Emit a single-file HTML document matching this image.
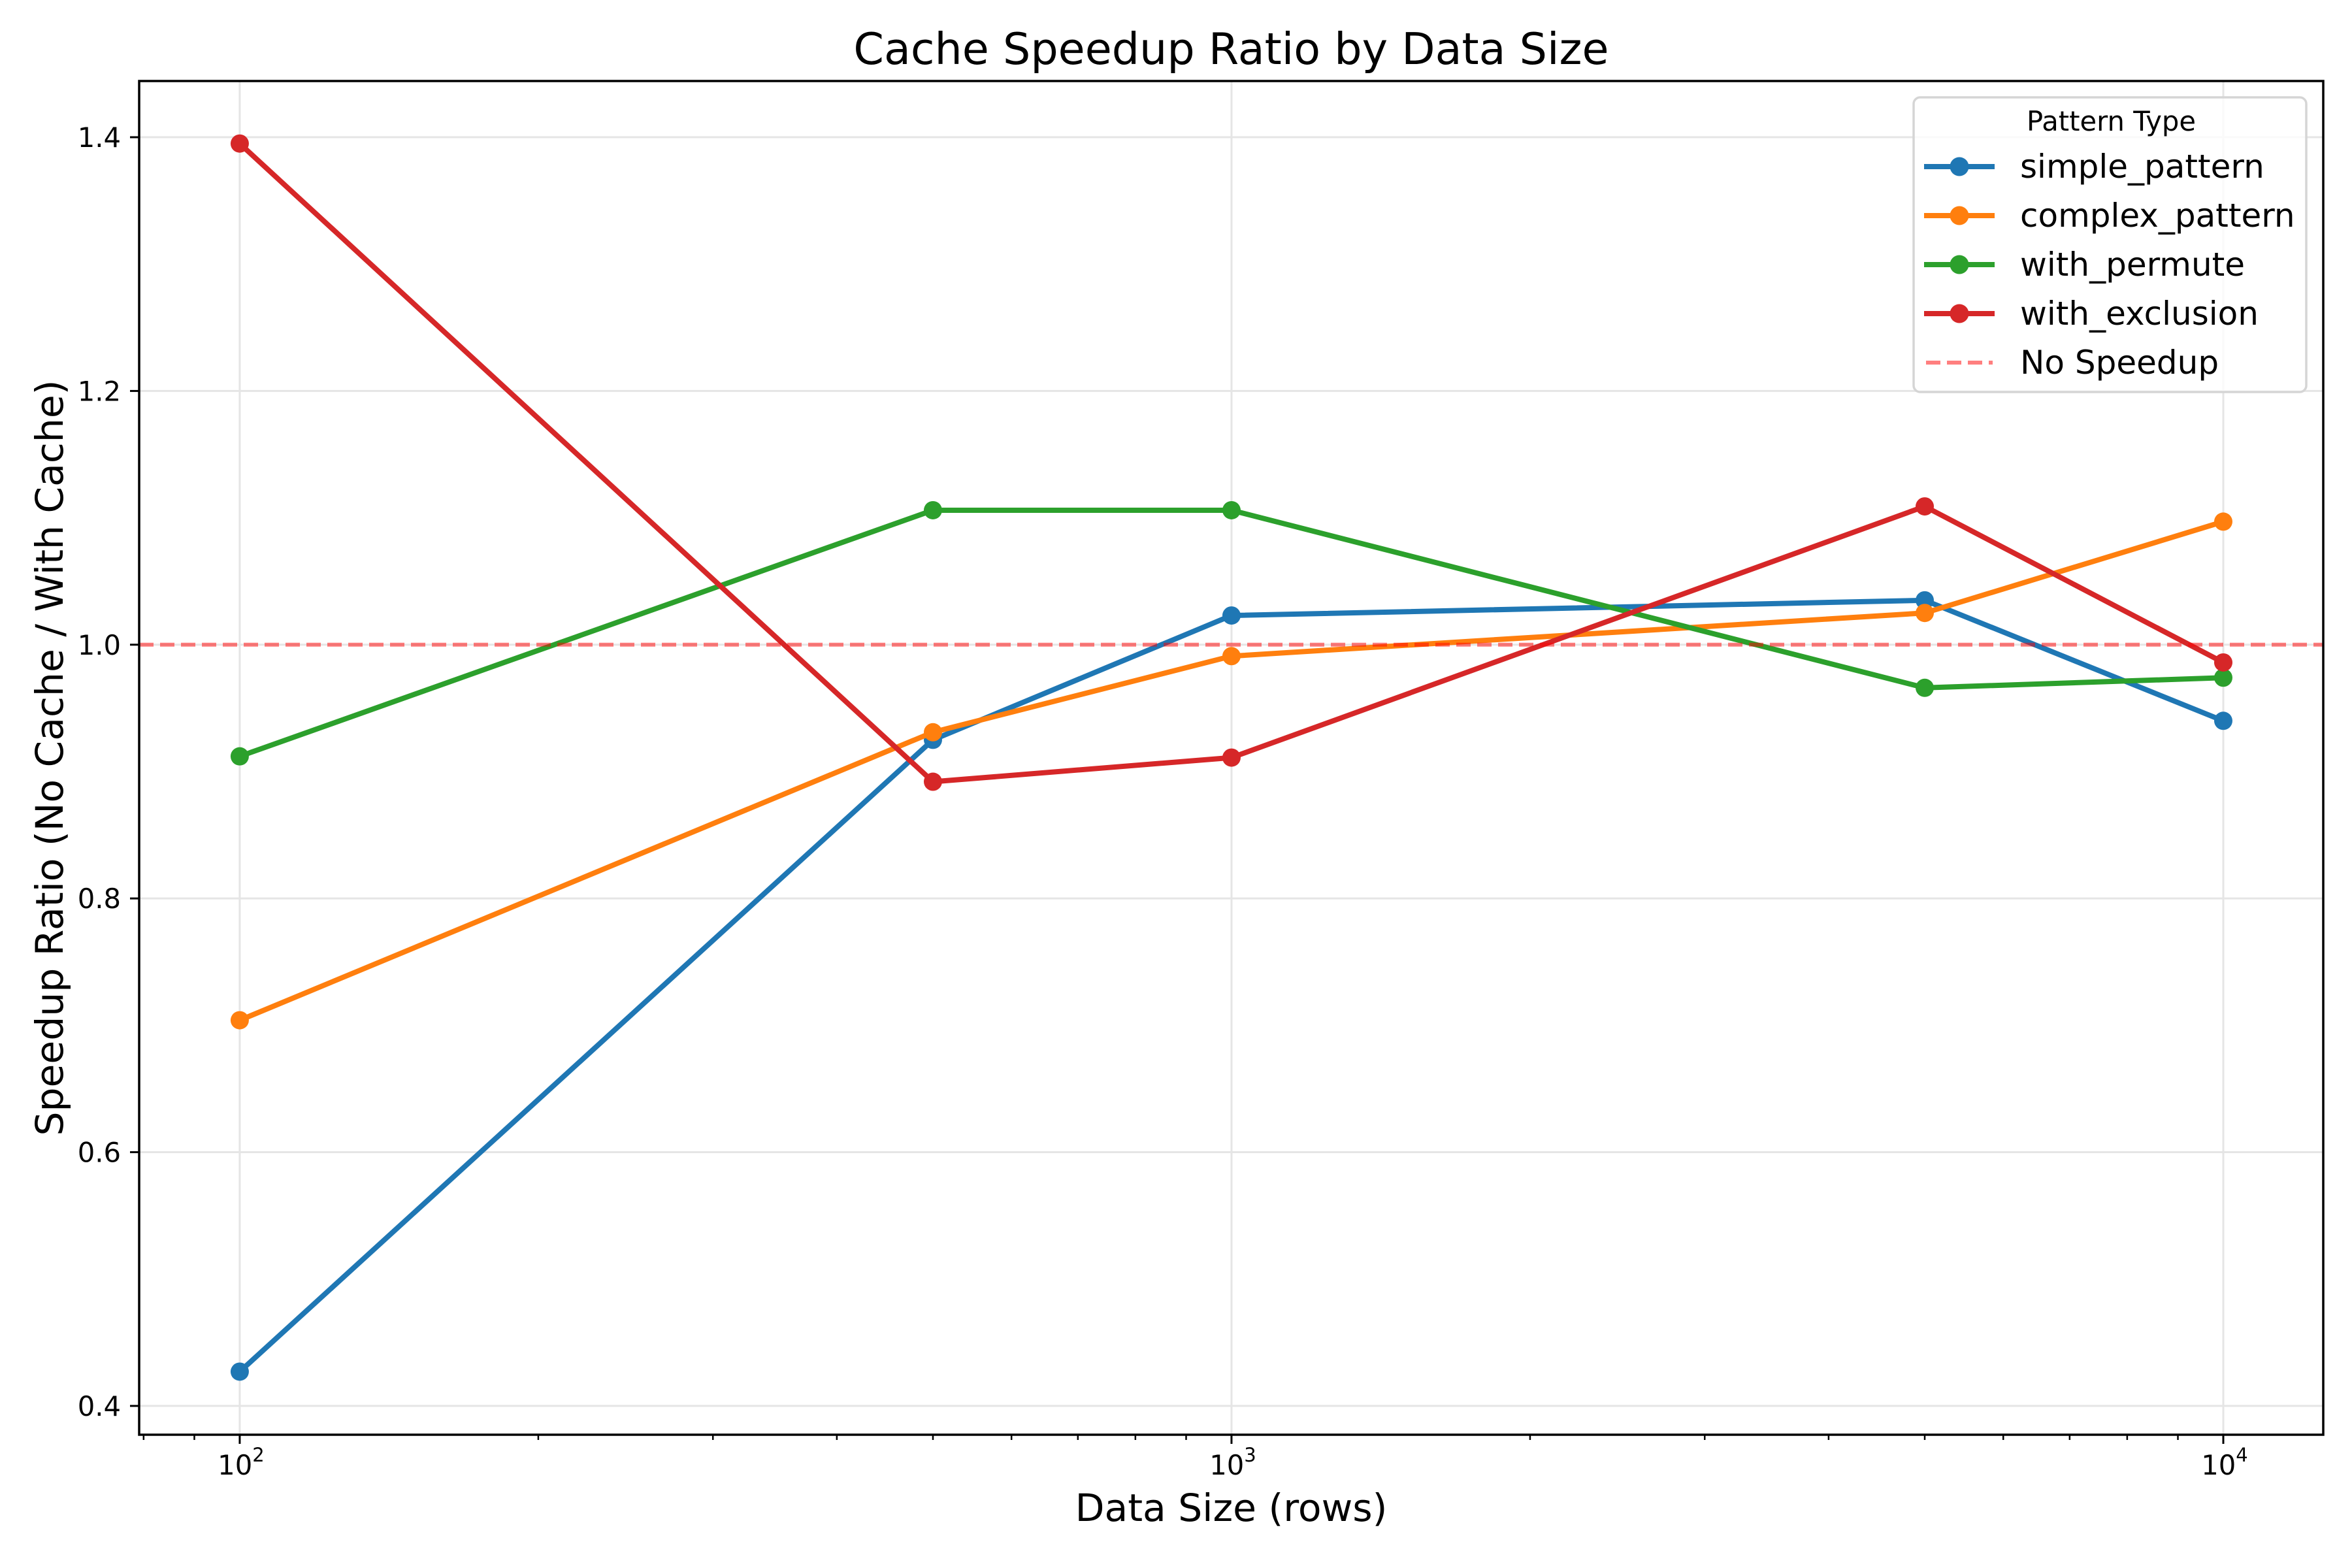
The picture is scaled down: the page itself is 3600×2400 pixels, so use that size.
<!DOCTYPE html>
<html><head><meta charset="utf-8"><style>
html,body{margin:0;padding:0;background:#fff;}
svg{display:block;font-family:"DejaVu Sans","Liberation Sans",sans-serif;}
</style></head><body>
<svg id="chart" width="3600" height="2400" viewBox="0 0 3600 2400">
<rect width="3600" height="2400" fill="#fff"/>
<g id="grid"></g><g id="series"></g><g id="axes"></g><g id="legend"></g>
</svg>
<script>
const sizes = [100, 500, 1000, 5000, 10000];
const seriesNames = ["simple_pattern", "complex_pattern", "with_permute", "with_exclusion"];
const simpleVals = [0.427, 0.925, 1.023, 1.035, 0.940];
const complexVals = [0.704, 0.931, 0.991, 1.025, 1.097];
const permuteVals = [0.912, 1.106, 1.106, 0.966, 0.974];
const exclusionVals = [1.395, 0.892, 0.911, 1.109, 0.986];
const yTicks = [0.4, 0.6, 0.8, 1.0, 1.2, 1.4];
const yTickLabels = ["0.4", "0.6", "0.8", "1.0", "1.2", "1.4"];
const xMajor = [100, 1000, 10000];
const xMajorExp = ["2", "3", "4"];
const baselineValue = 1.0;

const colors = ["#1f77b4", "#ff7f0e", "#2ca02c", "#d62728"];
const L = 213, R = 3556, T = 124, B = 2196;
const xMinLog = 1.8986, xMaxLog = 4.1008, yMin = 0.3773, yMax = 1.4443;
const xs = v => L + (Math.log10(v) - xMinLog) / (xMaxLog - xMinLog) * (R - L);
const ys = v => B - (v - yMin) / (yMax - yMin) * (B - T);
const NS = "http://www.w3.org/2000/svg";
function mk(tag, attrs, parent, text) {
  const e = document.createElementNS(NS, tag);
  for (const k in attrs) e.setAttribute(k, attrs[k]);
  if (text !== undefined) e.textContent = text;
  parent.appendChild(e);
  return e;
}
const gGrid = document.getElementById("grid"), gS = document.getElementById("series"),
      gA = document.getElementById("axes"), gL = document.getElementById("legend");

xMajor.forEach(v => {
  const l = mk("line", {x1: xs(v), x2: xs(v), y1: T, y2: B, stroke: "#e5e5e5", "stroke-width": 3}, gGrid);
  
  
});
yTicks.forEach(v => {
  const l = mk("line", {x1: L, x2: R, y1: ys(v), y2: ys(v), stroke: "#e5e5e5", "stroke-width": 3}, gGrid);
  
  
});

const allVals = [simpleVals, complexVals, permuteVals, exclusionVals];
allVals.forEach((vals, i) => {
  const g = mk("g", {}, gS);
  
  
  const pts = vals.map((v, j) => xs(sizes[j]) + "," + ys(v)).join(" ");
  const pl = mk("polyline", {points: pts, fill: "none", stroke: colors[i], "stroke-width": 8, "stroke-linejoin": "round", "stroke-linecap": "square"}, g);
  
  
  vals.forEach((v, j) => {
    const c = mk("circle", {cx: xs(sizes[j]), cy: ys(v), r: 14, fill: colors[i]}, g);
    
    
  });
});
const bl = mk("line", {x1: L, x2: R, y1: ys(baselineValue), y2: ys(baselineValue), stroke: "rgba(255,0,0,0.5)", "stroke-width": 6, "stroke-dasharray": "22 10"}, gS);



const fr = mk("rect", {x: L, y: T, width: R - L, height: B - T, fill: "none", stroke: "#000", "stroke-width": 3.5}, gA);



yTicks.forEach((v, i) => {
  const t = mk("line", {x1: L - 14, x2: L, y1: ys(v), y2: ys(v), stroke: "#000", "stroke-width": 3}, gA);
  
  
  const tx = mk("text", {x: L - 28, y: ys(v) + 15, "font-size": 41.7, "text-anchor": "end", fill: "#000"}, gA, yTickLabels[i]);
  
  
});
for (let d = 10; d <= 10000; d *= 10) {
  for (let m = 2; m <= 9; m++) {
    const v = d * m;
    const lv = Math.log10(v);
    if (lv < xMinLog || lv > xMaxLog) continue;
    const t = mk("line", {x1: xs(v), x2: xs(v), y1: B, y2: B + 8, stroke: "#000", "stroke-width": 2.5}, gA);
    
    
  }
}
xMajor.forEach((v, i) => {
  const t = mk("line", {x1: xs(v), x2: xs(v), y1: B, y2: B + 14, stroke: "#000", "stroke-width": 3}, gA);
  
  
  const tx = mk("text", {x: xs(v) + 2, y: 2257, "font-size": 41.7, "text-anchor": "middle", fill: "#000"}, gA);
  
  
  mk("tspan", {}, tx, "10");
  mk("tspan", {dy: -20, "font-size": 29}, tx, xMajorExp[i]);
});

const title = mk("text", {x: (L + R) / 2, y: 98, "font-size": 66.7, "text-anchor": "middle", fill: "#000"}, gA, "Cache Speedup Ratio by Data Size");


const xl = mk("text", {x: (L + R) / 2, y: 2328, "font-size": 58.3, "text-anchor": "middle", fill: "#000"}, gA, "Data Size (rows)");


const yl = mk("text", {x: 0, y: 0, "font-size": 58.3, "text-anchor": "middle", fill: "#000", transform: "translate(96," + (T + B) / 2 + ") rotate(-90)"}, gA, "Speedup Ratio (No Cache / With Cache)");



const lb = mk("rect", {x: 2929, y: 149, width: 601, height: 451, rx: 10, fill: "rgba(255,255,255,0.8)", stroke: "#d5d5d5", "stroke-width": 3.5}, gL);


const lt = mk("text", {x: 3102, y: 200, "font-size": 41.7, fill: "#000"}, gL, "Pattern Type");


const entryNames = seriesNames.concat(["No Speedup"]);
entryNames.forEach((n, i) => {
  const yy = 255 + i * 75;
  const g = mk("g", {}, gL);
  
  
  if (i < 4) {
    mk("line", {x1: 2945, x2: 3053, y1: yy, y2: yy, stroke: colors[i], "stroke-width": 8}, g);
    mk("circle", {cx: 2999, cy: yy, r: 14.5, fill: colors[i]}, g);
  } else {
    mk("line", {x1: 2948, x2: 3050, y1: yy, y2: yy, stroke: "rgba(255,0,0,0.5)", "stroke-width": 6, "stroke-dasharray": "22 10"}, g);
  }
  mk("text", {x: 3092, y: yy + 17, "font-size": 50, fill: "#000"}, g, n);
});
</script>
</body></html>
